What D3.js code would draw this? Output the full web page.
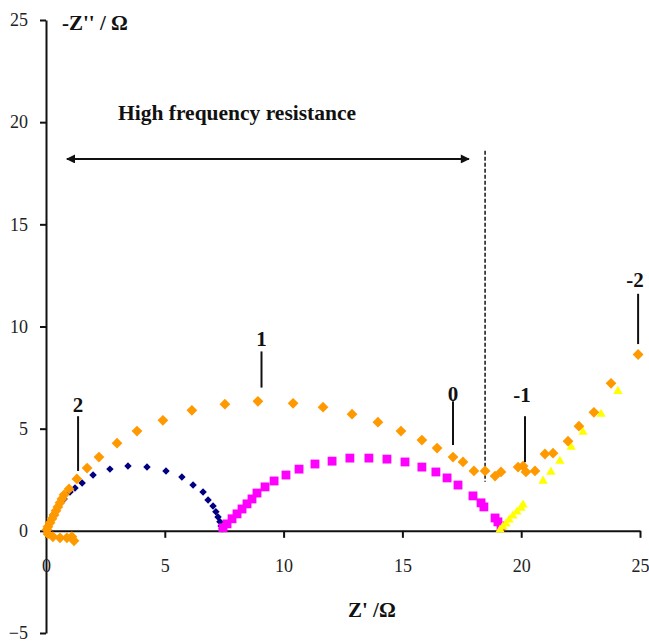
<!DOCTYPE html>
<html>
<head>
<meta charset="utf-8">
<script src="https://cdn.jsdelivr.net/npm/d3@7"></script>
<style>
  html, body { margin: 0; padding: 0; background: #fff; }
  svg { display: block; }
  .tick text { font-family: "Liberation Serif", "Times New Roman", serif; font-size: 18px; fill: #222; }
  .lbl { font-family: "Liberation Serif", "Times New Roman", serif; font-weight: bold; fill: #111; }
</style>
</head>
<body>
<script>
// Nyquist plot: Z' (real) vs -Z'' (imaginary), Ω

// Arc up to the first intercept (small navy diamonds)
const seriesNavy = [
  [0.04, 0.10], [0.13, 0.39], [0.29, 0.78], [0.50, 1.17], [0.76, 1.56], [1.01, 1.90],
  [1.22, 2.10], [1.52, 2.34], [1.98, 2.73], [2.69, 3.02], [3.45, 3.17], [4.25, 3.12],
  [5.05, 2.93], [5.72, 2.63], [6.19, 2.24], [6.61, 1.90], [6.82, 1.51], [7.03, 1.22],
  [7.15, 0.93], [7.24, 0.68], [7.32, 0.44], [7.37, 0.24], [7.41, 0.10]
];

// Second arc (magenta squares)
const seriesMagenta = [
  [7.45, 0.15], [7.62, 0.34], [7.83, 0.59], [8.04, 0.83], [8.25, 1.07], [8.46, 1.32],
  [8.67, 1.56], [8.88, 1.85], [9.22, 2.15], [9.60, 2.44], [10.10, 2.73], [10.65, 3.02],
  [11.32, 3.27], [12.04, 3.41], [12.79, 3.56], [13.59, 3.56], [14.35, 3.51], [15.11, 3.37],
  [15.82, 3.12], [16.41, 2.88], [16.88, 2.59], [17.34, 2.24], [17.97, 1.71], [18.31, 1.37],
  [18.43, 1.17], [18.90, 0.63], [19.02, 0.44], [19.15, 0.24]
];

// Low-frequency tail (yellow triangles)
const seriesYellow = [
  [19.11, 0.05], [19.23, 0.20], [19.36, 0.34], [19.49, 0.54], [19.65, 0.73], [19.82, 0.93],
  [19.99, 1.12], [20.08, 1.27], [20.92, 2.44], [21.25, 2.88], [21.63, 3.41], [22.10, 4.10],
  [22.60, 4.83], [23.36, 5.71], [24.07, 6.83]
];

// Full spectrum (orange diamonds)
const seriesOrange = [
  [1.18, -0.49], [1.09, -0.29], [0.88, -0.34], [0.59, -0.34], [0.29, -0.29], [0.08, -0.15],
  [0.04, 0.05], [0.08, 0.20], [0.17, 0.39], [0.25, 0.59], [0.34, 0.78], [0.42, 0.98],
  [0.50, 1.17], [0.59, 1.37], [0.67, 1.56], [0.76, 1.76], [0.97, 2.05], [1.30, 2.54],
  [1.73, 3.07], [2.23, 3.61], [2.99, 4.29], [3.83, 4.88], [4.92, 5.41], [6.14, 5.90],
  [7.53, 6.20], [8.92, 6.34], [10.40, 6.24], [11.66, 6.05], [12.88, 5.71], [13.97, 5.32],
  [14.94, 4.88], [15.82, 4.44], [16.46, 4.05], [17.13, 3.61], [17.55, 3.37], [18.01, 2.93],
  [18.48, 2.93], [18.90, 2.68], [19.15, 2.88], [19.87, 3.12], [20.08, 3.17], [20.20, 2.88],
  [20.58, 2.93], [21.00, 3.76], [21.34, 3.80], [21.97, 4.39], [22.43, 5.12], [23.06, 5.80],
  [23.78, 7.22], [24.92, 8.63]
];

const xTicks = [0, 5, 10, 15, 20, 25];
const yTicks = [-5, 0, 5, 10, 15, 20, 25];

// Point markers: label, Z', bottom and top of the leader line, label height
const markerLabels = ["2", "1", "0", "-1", "-2"];
const markerX = [1.35, 9.07, 17.13, 20.16, 24.92];
const markerLineLow = [2.93, 7.01, 4.20, 3.36, 9.14];
const markerLineHigh = [5.61, 8.78, 6.34, 5.61, 11.60];
const markerTextY = [6.18, 9.40, 6.70, 6.65, 12.30];

// High-frequency resistance span
const hfrStart = 0.88;
const hfrEnd = 17.80;
const hfrDashX = 18.48;
const hfrDashTop = 18.60;
const hfrDashBottom = 2.40;
const hfrArrowY = 18.20;

const W = 649, H = 642;
const svg = d3.select("body").append("svg").attr("width", W).attr("height", H);

const x = d3.scaleLinear().domain([0, 25]).range([46, 640]);
const y = d3.scaleLinear().domain([-5, 25]).range([633, 20]);

// Axes
const yAxis = svg.append("g")
  .attr("transform", `translate(${x(0)},0)`)
  .call(d3.axisLeft(y).tickValues(yTicks).tickFormat(d3.format("d")).tickSize(6).tickSizeOuter(0).tickPadding(12));
const xAxis = svg.append("g")
  .attr("transform", `translate(0,${y(0)})`)
  .call(d3.axisBottom(x).tickValues(xTicks).tickFormat(d3.format("d")).tickSize(7).tickSizeOuter(0).tickPadding(21));
[xAxis, yAxis].forEach(g => {
  g.select(".domain").attr("stroke", "#111").attr("stroke-width", 2);
  g.selectAll(".tick line").attr("stroke", "#111").attr("stroke-width", 2);
});

// Axis titles
svg.append("text").attr("class", "lbl").attr("x", 62).attr("y", 30)
  .attr("font-size", 21).text("-Z'' / Ω");
svg.append("text").attr("class", "lbl").attr("x", 348).attr("y", 617)
  .attr("font-size", 21).text("Z' /Ω");

// High-frequency resistance annotation
svg.append("defs").selectAll("marker").data(["arrEnd", "arrStart"]).join("marker")
  .attr("id", d => d)
  .attr("viewBox", "0 0 10 10").attr("refX", 9).attr("refY", 5)
  .attr("markerWidth", 5.5).attr("markerHeight", 4.5)
  .attr("markerUnits", "strokeWidth")
  .attr("orient", d => d === "arrEnd" ? "auto" : "auto-start-reverse")
  .append("path").attr("d", "M0,0 L10,5 L0,10 z").attr("fill", "#111");

svg.append("line")
  .attr("x1", x(hfrStart)).attr("x2", x(hfrEnd))
  .attr("y1", y(hfrArrowY)).attr("y2", y(hfrArrowY))
  .attr("stroke", "#111").attr("stroke-width", 2)
  .attr("marker-start", "url(#arrStart)").attr("marker-end", "url(#arrEnd)");

svg.append("line")
  .attr("x1", x(hfrDashX)).attr("x2", x(hfrDashX))
  .attr("y1", y(hfrDashTop)).attr("y2", y(hfrDashBottom))
  .attr("stroke", "#222").attr("stroke-width", 1.6).attr("stroke-dasharray", "4,2");

svg.append("text").attr("class", "lbl").attr("x", 118).attr("y", 120)
  .attr("font-size", 21.5).text("High frequency resistance");

// Data series
const sym = (type, size) => d3.symbol().type(type).size(size)();
const series = [
  { data: seriesNavy, color: "#000080", path: sym(d3.symbolSquare, 28), rot: 45 },
  { data: seriesMagenta, color: "#FF00FF", path: sym(d3.symbolSquare, 78), rot: 0 },
  { data: seriesYellow, color: "#FFFF00", path: sym(d3.symbolTriangle, 38), rot: 0 },
  { data: seriesOrange, color: "#FF9900", path: sym(d3.symbolSquare, 58), rot: 45 }
];
series.forEach(s => {
  svg.append("g").selectAll("path").data(s.data).join("path")
    .attr("d", s.path)
    .attr("transform", d => `translate(${x(d[0])},${y(d[1])}) rotate(${s.rot})`)
    .attr("fill", s.color);
});

// Point markers with leader lines
const marks = markerLabels.map((t, i) => ({
  t, x: markerX[i], lo: markerLineLow[i], hi: markerLineHigh[i], ty: markerTextY[i]
}));
const mg = svg.append("g");
mg.selectAll("line").data(marks).join("line")
  .attr("x1", d => x(d.x)).attr("x2", d => x(d.x))
  .attr("y1", d => y(d.lo)).attr("y2", d => y(d.hi))
  .attr("stroke", "#111").attr("stroke-width", 2);
mg.selectAll("text").data(marks).join("text")
  .attr("class", "lbl").attr("font-size", 21)
  .attr("text-anchor", "middle")
  .attr("x", d => x(d.x) + (d.t.startsWith("-") ? -3 : 0))
  .attr("y", d => y(d.ty) + 7)
  .text(d => d.t);
</script>
</body>
</html>
